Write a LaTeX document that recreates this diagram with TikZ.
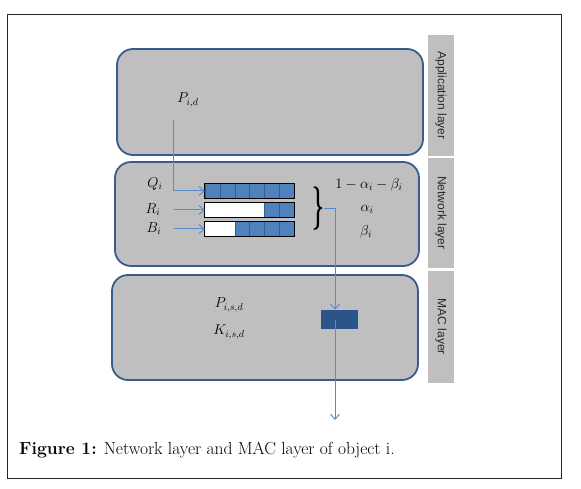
\documentclass[tikz,border=0pt]{standalone}
\usepackage{amsmath}
\usepackage{fontspec}
\newfontfamily\tagfont{Liberation Sans}
\usetikzlibrary{positioning}
\usetikzlibrary{arrows.meta}

\definecolor{layerfill}{RGB}{191,191,191}
\definecolor{layerline}{RGB}{56,93,138}
\definecolor{flowline}{RGB}{86,140,205}
\definecolor{cellfill}{RGB}{79,129,189}
\definecolor{macfill}{RGB}{44,84,138}
\definecolor{tagtext}{RGB}{40,40,40}

\tikzset{
    layer/.style={draw=layerline, line width=1.8pt, fill=layerfill, rounded corners=16pt},
    tag/.style={fill=layerfill, minimum height=26pt, inner sep=0pt, rotate=-90,
        font=\tagfont\fontsize{12}{12}\selectfont, text=tagtext},
    queue/.style={minimum width=89pt, minimum height=15pt, inner sep=0pt, fill=white},
    cell/.style={draw=layerline, line width=0.7pt, fill=cellfill},
    flow/.style={draw=flowline, line width=1pt, -{Straight Barb[length=5pt,width=9pt]}},
    lbl/.style={font=\fontsize{14}{14}\selectfont, inner sep=1pt},
    bracefont/.style={font=\fontsize{22}{22}\selectfont\boldmath, inner sep=0pt},
}

\begin{document}
\begin{tikzpicture}[x=1pt, y=-1pt]
            \useasboundingbox (0,0) rectangle (581,489);
            \draw[line width=1pt, black!85] (7.5,15) rectangle (561,478);

            % layers
            \node[layer, minimum width=306pt, minimum height=106pt] (app) at (270,102) {};
            \node[layer, minimum width=304pt, minimum height=104pt] (net) at (267,214) {};
            \node[layer, minimum width=306pt, minimum height=105pt] (mac) at (265,327.5) {};

            \node[tag, minimum width=121pt] (apptag) at (441,95.5) {Application layer};
            \node[tag, minimum width=110pt] (nettag) at (441,213) {Network layer};
            \node[tag, minimum width=112pt] (mactag) at (441,327) {MAC layer};

            % queues
            \foreach \q/\yy/\n in {q/191/6, r/210/2, b/229/4} {
                \node[queue] (\q) at (249.5,\yy) {};
                \foreach \k in {1,...,\n}
                    \draw[cell] ([xshift={-(\k-1)*14.83pt}]\q.north east) rectangle ++(-14.83,15);
                \draw[line width=0.9pt] (\q.south west) rectangle (\q.north east);
            }

            \node[lbl] (pid) at (188,100) {$P_{i,d}$};
            \node[lbl] (ql) at (155,184) {$Q_i$};
            \node[lbl] (rl) at (153,210) {$R_i$};
            \node[lbl] (bl) at (154,229) {$B_i$};

            \coordinate (pidout) at (173,120);
            \coordinate (rin) at (174,210);
            \coordinate (bin) at (174,229);
            \draw[flow] (pidout) |- (q.west);
            \draw[flow] (rin) -- (r.west);
            \draw[flow] (bin) -- (b.west);

            \node[bracefont, yscale=2.1] (brace) at (318,208.5) {$\rbrace$};

            \node[lbl] (w1) at (369,185) {$1-\alpha_i-\beta_i$};
            \node[lbl] (w2) at (367,209) {$\alpha_i$};
            \node[lbl] (w3) at (366,232) {$\beta_i$};

            % MAC
            \node[fill=macfill, minimum width=37pt, minimum height=19pt, inner sep=0pt] (macq) at (339.5,319.5) {};
            \node[lbl] (psd) at (229,305) {$P_{i,s,d}$};
            \node[lbl] (ksd) at (229,332) {$K_{i,s,d}$};

            \coordinate (sink) at (335,420);
            \draw[flow] (brace.east) -| ([xshift=-4.5pt]macq.north);
            \draw[flow] ([xshift=-4.5pt]macq.center) -- (sink);

            \node[anchor=base west, inner sep=0pt, font=\fontsize{17.5}{18}\selectfont] (cap) at (19,454)
                {\textbf{Figure 1:} Network layer and MAC layer of object i.};
        \end{tikzpicture}
\end{document}
